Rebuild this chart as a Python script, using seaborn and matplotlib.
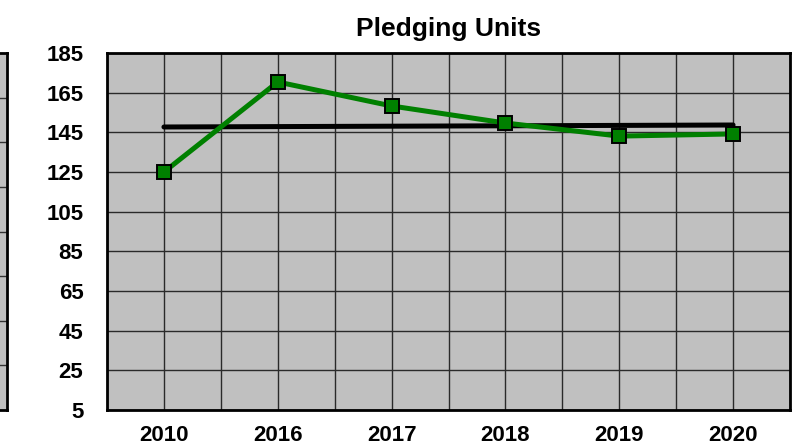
import numpy as np
import pandas as pd
import seaborn as sns
from matplotlib import pyplot as plt
from matplotlib.ticker import MultipleLocator

years = ['2010', '2016', '2017', '2018', '2019', '2020']
units = [125, 170.4, 158.3, 149.7, 143.1, 144.2]
target = [147.7, 147.9, 148.1, 148.3, 148.5, 148.7]
y_ticks = [5, 25, 45, 65, 85, 105, 125, 145, 165, 185]

sns.set_style('white')
plt.rcParams['font.family'] = ['Liberation Sans', 'DejaVu Sans']
plt.rcParams['text.color'] = 'black'
plt.rcParams['xtick.color'] = 'black'
plt.rcParams['ytick.color'] = 'black'

df = pd.DataFrame({'pos': range(len(years)), 'year': years, 'units': units, 'target': target})

fig = plt.figure(figsize=(7.97, 4.47), dpi=100)

# fragment of the neighbouring chart on the left edge
side = fig.add_axes([-0.05, 0.0828, 0.0588, 0.7986])
side.set_facecolor('#c0c0c0')
side.set_xlim(0, 1)
side.set_ylim(0, 8)
for k in range(1, 8):
    side.axhline(k, color='#333333', lw=1)
side.set_xticks([])
side.set_yticks([])
for s in side.spines.values():
    s.set_color('black')
    s.set_linewidth(2)

ax = fig.add_axes([0.1343, 0.0828, 0.8569, 0.7986])
ax.set_facecolor('#c0c0c0')

sns.lineplot(data=df, x='pos', y='target', ax=ax, color='black', lw=3.6, zorder=3)
sns.lineplot(data=df, x='pos', y='units', ax=ax, color='#008000', lw=3.6, marker='s',
             markersize=10, markerfacecolor='#008000', markeredgecolor='black',
             markeredgewidth=1.4, zorder=4)

ax.set_xlim(-0.5, len(years) - 0.5)
ax.set_ylim(5, 185)
ax.set_xticks(range(len(years)))
ax.set_xticklabels(years)
ax.set_yticks(y_ticks)
ax.xaxis.set_minor_locator(MultipleLocator(0.5))
ax.grid(True, which='both', axis='x', color='#2a2a2a', lw=1)
ax.grid(True, which='major', axis='y', color='#2a2a2a', lw=1)
ax.set_axisbelow(True)
ax.tick_params(which='both', length=0)
ax.tick_params(axis='x', pad=11)
ax.tick_params(axis='y', pad=17)
for lab in ax.get_xticklabels() + ax.get_yticklabels():
    lab.set_fontweight('bold')
    lab.set_fontsize(16)
ax.set_xlabel('')
ax.set_ylabel('')
for s in ax.spines.values():
    s.set_color('black')
    s.set_linewidth(2)
ax.set_title('Pledging Units', fontsize=19, fontweight='bold', pad=12)

fig.savefig('out.png', dpi=100)
